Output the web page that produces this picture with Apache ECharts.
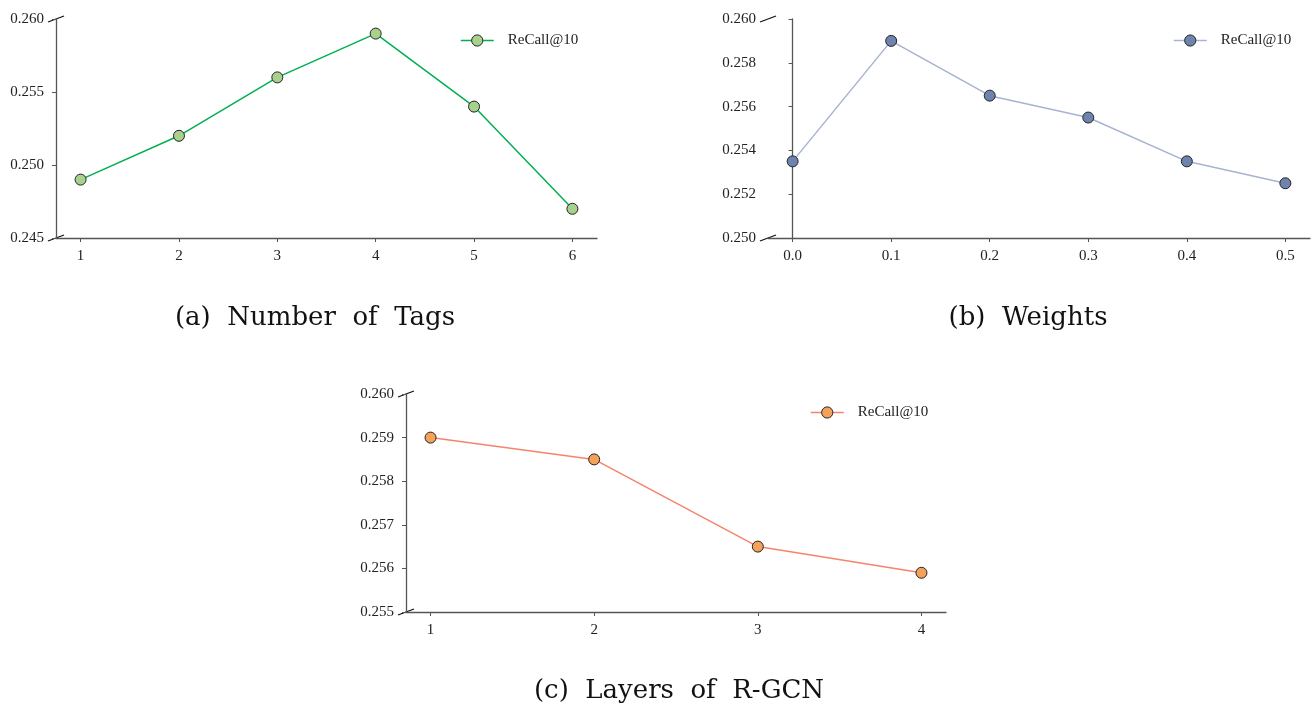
<!DOCTYPE html>
<html>
<head>
<meta charset="utf-8">
<script src="https://cdn.jsdelivr.net/npm/echarts@6/dist/echarts.min.js"></script>
<style>
  html, body { margin: 0; padding: 0; background: #fff; }
  #main { width: 1316px; height: 706px; }
</style>
</head>
<body>
<div id="main"></div>
<script>
// data
const tagsX = [1, 2, 3, 4, 5, 6];
const tagsRecall = [0.249, 0.252, 0.256, 0.259, 0.254, 0.247];
const weightsX = [0.0, 0.1, 0.2, 0.3, 0.4, 0.5];
const weightsRecall = [0.2535, 0.259, 0.2565, 0.2555, 0.2535, 0.2525];
const layersX = [1, 2, 3, 4];
const layersRecall = [0.259, 0.2585, 0.2565, 0.2559];
const captions = ["(a)  Number  of  Tags", "(b)  Weights", "(c)  Layers  of  R-GCN"];
const legendName = "ReCall@10";

const serif = "Liberation Serif";
const axisColor = "#555";

function pairs(xs, ys) {
  return xs.map((x, i) => [x, ys[i]]);
}

function xAxisOf(idx, vals, min, max, fmt) {
  return {
    type: "value", gridIndex: idx, min: min, max: max,
    axisLine: { lineStyle: { color: axisColor, width: 1.3 } },
    axisTick: { customValues: vals, length: 4, lineStyle: { color: axisColor } },
    axisLabel: { customValues: vals, margin: 11, color: "#222", fontFamily: serif, fontSize: 15, formatter: fmt },
    splitLine: { show: false }
  };
}

function yAxisOf(idx, min, max, interval, digits) {
  return {
    type: "value", gridIndex: idx, min: min, max: max, interval: interval,
    axisLine: { show: true, lineStyle: { color: axisColor, width: 1.3 } },
    axisTick: { show: true, length: 4, lineStyle: { color: axisColor } },
    axisLabel: { margin: 12, color: "#222", fontFamily: serif, fontSize: 15,
      formatter: v => v.toFixed(digits) },
    splitLine: { show: false }
  };
}

function lineSeries(name, idx, data, lineColor, dotColor) {
  return {
    name: name, type: "line", xAxisIndex: idx, yAxisIndex: idx,
    data: data, symbol: "circle", symbolSize: 11,
    lineStyle: { color: lineColor, width: 1.5 },
    itemStyle: { color: dotColor, borderColor: "#222", borderWidth: 1 },
    emphasis: { disabled: true }
  };
}

function legendOf(name, left, top) {
  return {
    data: [name], left: left, top: top, itemWidth: 33, itemHeight: 14,
    formatter: () => legendName,
    itemStyle: { borderWidth: 1 },
    lineStyle: { width: 1.5 },
    textStyle: { fontFamily: serif, fontSize: 15, color: "#222", padding: [0, 0, 0, 9] }
  };
}

const chart = echarts.init(document.getElementById("main"));

const option = {
  backgroundColor: "#fff",
  animation: false,
  title: [
    { text: captions[0], left: 310, top: 300, textAlign: "center" },
    { text: captions[1], left: 1023, top: 300, textAlign: "center" },
    { text: captions[2], left: 674, top: 673, textAlign: "center" }
  ].map(t => Object.assign(t, { textStyle: { fontFamily: "DejaVu Serif", fontSize: 26, fontWeight: "normal", color: "#111" } })),
  grid: [
    { left: 56, top: 19, width: 541, height: 219 },
    { left: 768, top: 19, width: 542, height: 219 },
    { left: 406, top: 394, width: 540, height: 218 }
  ],
  xAxis: [
    xAxisOf(0, tagsX, 0.75, 6.25, v => String(v)),
    xAxisOf(1, weightsX, -0.025, 0.525, v => v.toFixed(1)),
    xAxisOf(2, layersX, 0.85, 4.15, v => String(v))
  ],
  yAxis: [
    yAxisOf(0, 0.245, 0.260, 0.005, 3),
    yAxisOf(1, 0.250, 0.260, 0.002, 3),
    yAxisOf(2, 0.255, 0.260, 0.001, 3)
  ],
  legend: [
    legendOf("a", 455, 28),
    legendOf("b", 1168, 28),
    legendOf("c", 805, 400)
  ],
  series: [
    lineSeries("a", 0, pairs(tagsX, tagsRecall), "#00b050", "#a9d18e"),
    lineSeries("b", 1, pairs(weightsX, weightsRecall), "#a7b4cf", "#6e83ad"),
    lineSeries("c", 2, pairs(layersX, layersRecall), "#f4846c", "#f4a25a")
  ]
};

chart.setOption(option);

// little axis-break slashes at both ends of each y axis
const ends = [
  [0, 0.75, 0.245, 0.260],
  [1, -0.025, 0.250, 0.260],
  [2, 0.85, 0.255, 0.260]
];
const marks = [];
ends.forEach(([g, x0, y0, y1]) => {
  [y0, y1].forEach(yv => {
    const p = chart.convertToPixel({ gridIndex: g }, [x0, yv]);
    marks.push({
      type: "line",
      shape: { x1: p[0] - 8, y1: p[1] + 3, x2: p[0] + 8, y2: p[1] - 3 },
      style: { stroke: "#111", lineWidth: 1.3 }
    });
  });
});
chart.setOption({ graphic: marks });
</script>
</body>
</html>
